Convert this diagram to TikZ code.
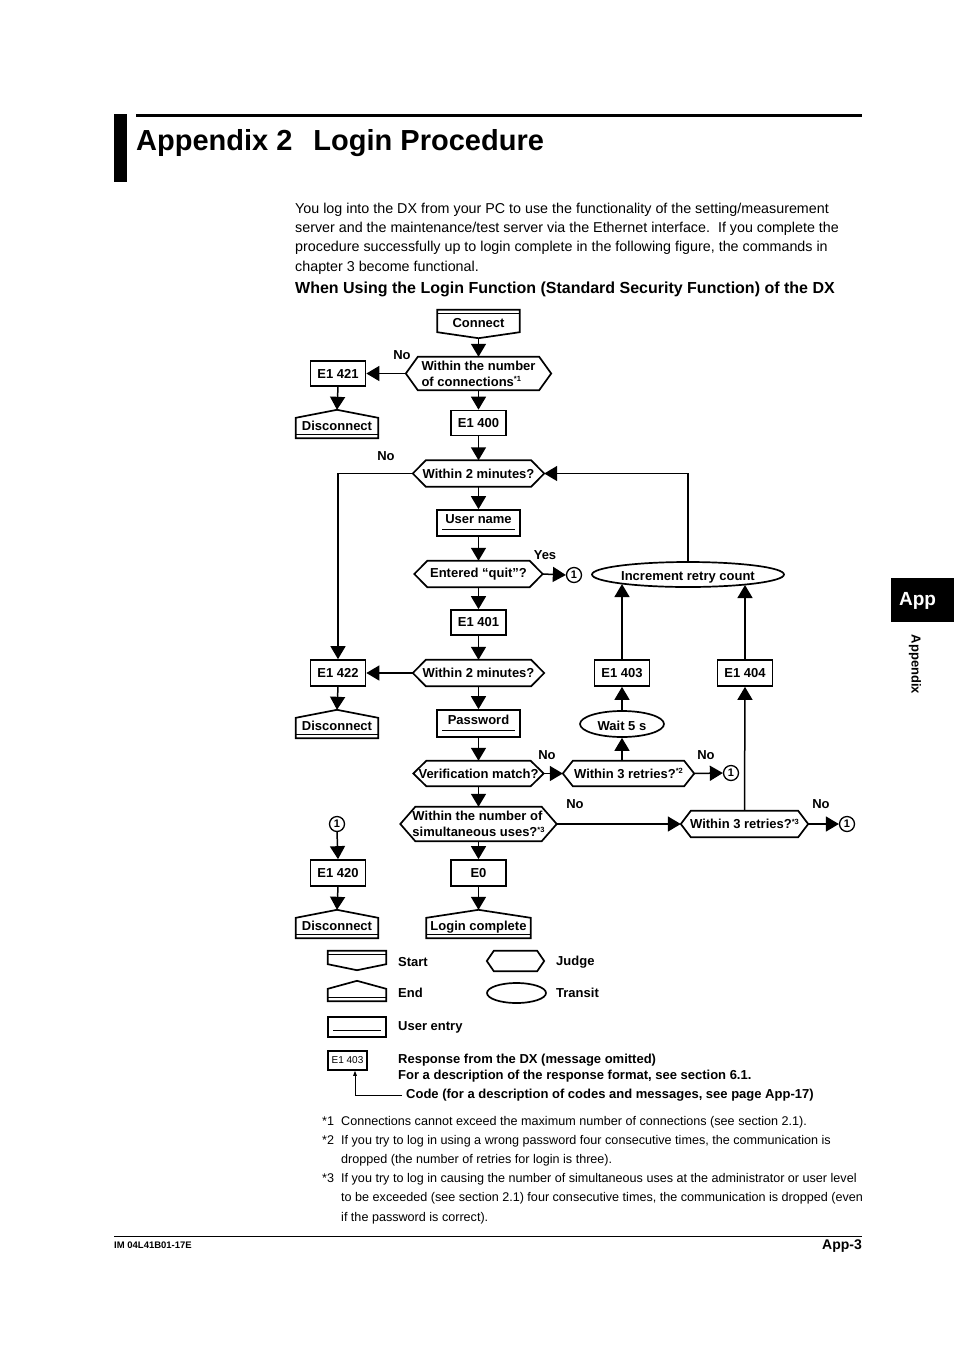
\documentclass[tikz,border=0pt]{standalone}
\usepackage{fontspec}
\setmainfont{Liberation Sans}
\usepackage{tikz}
\usetikzlibrary{positioning,calc,arrows.meta,shapes.geometric}

\newcommand\supnote[1]{\raisebox{4.5pt}{\fontsize{7.5}{8}\selectfont *#1}}

\tikzset{
  flow/.style = {font = \fontsize{13}{16}\selectfont\bfseries},
  resp/.style = {flow, draw, line width = 1.7pt, shape = rectangle, minimum width = 55pt, minimum height = 25pt, inner sep = 0pt},
  entry/.style = {resp, minimum width = 83pt, minimum height = 26pt, text depth = 8pt},
  judge/.style = {flow, shape = rectangle, minimum height = 26pt, inner sep = 0pt},
  transit/.style = {flow, draw, line width = 1.7pt, shape = ellipse, inner sep = 0pt, minimum height = 26pt, text height = 12pt, text depth = 0pt},
  endbox/.style = {flow, shape = rectangle, minimum width = 82pt, minimum height = 20pt, inner sep = 0pt, text depth = 4pt},
  startbox/.style = {flow, shape = rectangle, minimum width = 82pt, minimum height = 22pt, inner sep = 0pt, text height = 13pt},
  jump/.style = {draw, shape = circle, line width = 1.3pt, minimum size = 15pt, inner sep = 0pt, font = \fontsize{11}{11}\selectfont\bfseries},
  lbl/.style = {flow, inner sep = 0pt},
  shapeline/.style = {line width = 1.7pt, line join = miter},
  flowline/.style = {line width = 1.5pt, -{Triangle[width = 15pt, length = 13pt]}},
  note/.style = {font = \fontsize{12.6}{19.3}\selectfont, inner sep = 0pt, anchor = base west, align = left},
}

\begin{document}
\begin{tikzpicture}[x = 1pt, y = -1pt]
\useasboundingbox (0,0) rectangle (954,1350);

% heading of the page
\fill (114,114) rectangle (127,182);
\draw[line width = 3pt] (136,115) -- (862,115);
\node[anchor = base west, inner sep = 0pt, font = \fontsize{29}{32}\selectfont\bfseries] (1) at (136,150) {Appendix 2\hspace{21pt}Login Procedure};
% base = last line
\node[anchor = base west, inner sep = 0pt, align = left, font = \fontsize{14.3}{19.3}\selectfont] (2) at (295,271) {You log into the DX from your PC to use the functionality of the setting/measurement\\server and the maintenance/test server via the Ethernet interface.\ \ If you complete the\\procedure successfully up to login complete in the following figure, the commands in\\chapter 3 become functional.};
\node[anchor = base west, inner sep = 0pt, font = \fontsize{16}{19}\selectfont\bfseries] (3) at (295,293.7) {When Using the Login Function (Standard Security Function) of the DX};

% main column
\node[startbox] (10) at (478.5,321) {Connect};
\node[judge, minimum width = 145pt, minimum height = 33pt, align = left] (11) at (478.5,373.5) {Within the number\\of connections\supnote{1}};
\node[resp] (12) at (478.5,423) {E1 400};
\node[judge, minimum width = 131pt] (13) at (478.5,473.5) {Within 2 minutes?};
\node[entry] (14) at (478.5,523) {User name};
\node[judge, minimum width = 128pt] (15) at (478.5,574) {Entered “quit”?};
\node[resp] (16) at (478.5,622.5) {E1 401};
\node[judge, minimum width = 131pt] (17) at (478.5,673) {Within 2 minutes?};
\node[entry, minimum height = 27pt] (18) at (478.5,723.5) {Password};
\node[judge, minimum width = 130pt, minimum height = 25pt] (19) at (478.5,773.5) {Verification match?};
\node[judge, minimum width = 156pt, minimum height = 34pt, align = left] (20) at (478.5,824) {Within the number of\\simultaneous uses?\supnote{3}};
\node[resp, minimum height = 26pt] (21) at (478.5,873) {E0};
\node[endbox, minimum width = 104pt] (22) at (478.5,928) {Login complete};

% left column
\node[resp] (30) at (338,373.5) {E1 421};
\node[endbox] (31) at (337,428) {Disconnect};
\node[resp, minimum height = 26pt] (32) at (338,673) {E1 422};
\node[endbox] (33) at (337,728) {Disconnect};
\node[resp, minimum height = 26pt] (34) at (338,873) {E1 420};
\node[endbox] (35) at (337,928) {Disconnect};

% retry branch
\node[transit, minimum width = 192pt, minimum height = 25pt] (40) at (688,574.5) {Increment retry count};
\node[resp, minimum height = 26pt] (41) at (622,673) {E1 403};
\node[resp, minimum height = 26pt] (42) at (745,673) {E1 404};
\node[transit, minimum width = 84pt] (43) at (622,724) {Wait 5 s};
\node[judge, minimum width = 131pt, minimum height = 25pt] (44) at (628.5,773.5) {Within 3 retries?\supnote{2}};
\node[judge, minimum width = 127pt] (45) at (744.5,824) {Within 3 retries?\supnote{3}};

% connectors "1"
\node[jump] (50) at (574,575) {1};
\node[jump] (51) at (731,773) {1};
\node[jump] (52) at (847,824) {1};
\node[jump] (53) at (337,824) {1};

\node[lbl] (60) at (402,355) {No};
\node[lbl] (61) at (386,456) {No};
\node[lbl] (62) at (545,555) {Yes};
\node[lbl] (63) at (547,755) {No};
\node[lbl] (64) at (706,755) {No};
\node[lbl] (65) at (575,804) {No};
\node[lbl] (66) at (821,804) {No};

% legend
\node[startbox, minimum width = 58pt, minimum height = 11pt] (70) at (357,957.5) {};
\node[endbox, minimum width = 58pt, minimum height = 12pt] (71) at (357,995) {};
\node[entry, minimum width = 58pt, minimum height = 20pt] (72) at (357,1027) {};
\node[judge, minimum width = 57pt, minimum height = 20pt] (73) at (515.5,961) {};
\node[transit, minimum width = 59pt, minimum height = 20pt] (74) at (516.5,993) {};
\node[draw, line width = 1.5pt, minimum width = 39pt, minimum height = 19pt, inner sep = 0pt, font = \fontsize{10}{10}\selectfont] (75) at (347.5,1060.5) {E1 403};
\node[lbl, anchor = west] (76) at (398,962) {Start};
\node[lbl, anchor = west] (77) at (398,993) {End};
\node[lbl, anchor = west] (78) at (398,1027) {User entry};
\node[lbl, anchor = west] (79) at (556,962) {Judge};
\node[lbl, anchor = west] (80) at (556,993) {Transit};
\node[lbl, anchor = west] (81) at (398,1060) {Response from the DX (message omitted)};
\node[lbl, anchor = west] (82) at (398,1076) {For a description of the response format, see section 6.1.};
\node[lbl, anchor = west] (83) at (406,1095) {Code (for a description of codes and messages, see page App-17)};

% outlines of start, end, judge and entry shapes
\foreach \n in {10,70}{
  \draw[shapeline] (\n.north west) -- (\n.north east) -- (\n.south east) -- ($(\n.south)+(0,6)$) -- (\n.south west) -- cycle;
  \draw[line width = 1.2pt] ($(\n.north west)+(0,4)$) -- ($(\n.north east)+(0,4)$);
}
\foreach \n in {22,31,33,35,71}{
  \draw[shapeline] (\n.south west) -- (\n.north west) -- ($(\n.north)+(0,-8)$) -- (\n.north east) -- (\n.south east) -- cycle;
  \draw[line width = 1.2pt] ($(\n.south west)+(0,-4)$) -- ($(\n.south east)+(0,-4)$);
}
\foreach \n/\d in {11/12,13/13,15/13,17/13,19/13,20/15,44/10,45/10,73/7}
  \draw[shapeline] (\n.west) -- ($(\n.north west)+(\d,0)$) -- ($(\n.north east)+(-\d,0)$) -- (\n.east) -- ($(\n.south east)+(-\d,0)$) -- ($(\n.south west)+(\d,0)$) -- cycle;
\foreach \n in {14,18,72}
  \draw[line width = 1.2pt] ($(\n.south west)+(6,-7)$) -- ($(\n.south east)+(-6,-7)$);

% flow
\draw[flowline] ([yshift = -6pt]10.south) -- (11.north);
\draw[flowline] (11.west) -- (30.east);
\draw[flowline] (30.south) -- ([yshift = 8pt]31.north);
\draw[flowline] (11.south) -- (12.north);
\draw[flowline] (12.south) -- (13.north);
\draw[flowline] (13.west) -| (32.north);
\draw[flowline] (40.north) |- (13.east);
\draw[flowline] (13.south) -- (14.north);
\draw[flowline] (14.south) -- (15.north);
\draw[flowline] (15.east) -- (50.west);
\draw[flowline] (15.south) -- (16.north);
\draw[flowline] (16.south) -- (17.north);
\draw[flowline] (17.west) -- (32.east);
\draw[flowline] (32.south) -- ([yshift = 8pt]33.north);
\draw[flowline] (17.south) -- (18.north);
\draw[flowline] (18.south) -- (19.north);
\draw[flowline] (19.east) -- (44.west);
\draw[flowline] (44.north -| 43.south) -- (43.south);
\draw[flowline] (44.east) -- (51.west);
\draw[flowline] (43.north) -- (41.south);
\draw[flowline] (41.north) -- (41.north |- 40.188);
\draw[flowline] (42.north) -- (42.north |- 40.350);
\draw[flowline] (45.north) -- (42.south);
\draw[flowline] (19.south) -- (20.north);
\draw[flowline] (20.east) -- (45.west);
\draw[flowline] (45.east) -- (52.west);
\draw[flowline] (20.south) -- (21.north);
\draw[flowline] (21.south) -- ([yshift = 8pt]22.north);
\draw[flowline] (53.south) -- (34.north);
\draw[flowline] (34.south) -- ([yshift = 8pt]35.north);
\draw[line width = 0.9pt, -{Triangle[width = 3.5pt, length = 5pt]}] ([xshift = -4pt]83.west) -| ([xshift = 7.5pt]75.south);

% notes (base = last line)
\node[note] (90) at (322,1125.6) {*1};
\node[note] (91) at (341,1125.6) {Connections cannot exceed the maximum number of connections (see section 2.1).};
\node[note] (92) at (322,1144.6) {*2};
\node[note] (93) at (341,1163.9) {If you try to log in using a wrong password four consecutive times, the communication is\\dropped (the number of retries for login is three).};
\node[note] (94) at (322,1182.6) {*3};
\node[note] (95) at (341,1221.2) {If you try to log in causing the number of simultaneous uses at the administrator or user level\\to be exceeded (see section 2.1) four consecutive times, the communication is dropped (even\\if the password is correct).};

% foot and side tab
\draw[line width = 1pt] (114,1236) -- (862,1236);
\node[anchor = base west, inner sep = 0pt, font = \fontsize{9.5}{10}\selectfont\bfseries] (96) at (114,1248.4) {IM 04L41B01-17E};
\node[anchor = base east, inner sep = 0pt, font = \fontsize{14}{16}\selectfont\bfseries] (97) at (862,1249) {App-3};
\fill (891,578) rectangle (954,622);
\node[text = white, inner sep = 0pt, font = \fontsize{19}{20}\selectfont\bfseries] (98) at (917.5,601) {App};
\node[rotate = -90, inner sep = 0pt, font = \fontsize{13}{14}\selectfont\bfseries] (99) at (915,664.5) {Appendix};
\end{tikzpicture}
\end{document}
